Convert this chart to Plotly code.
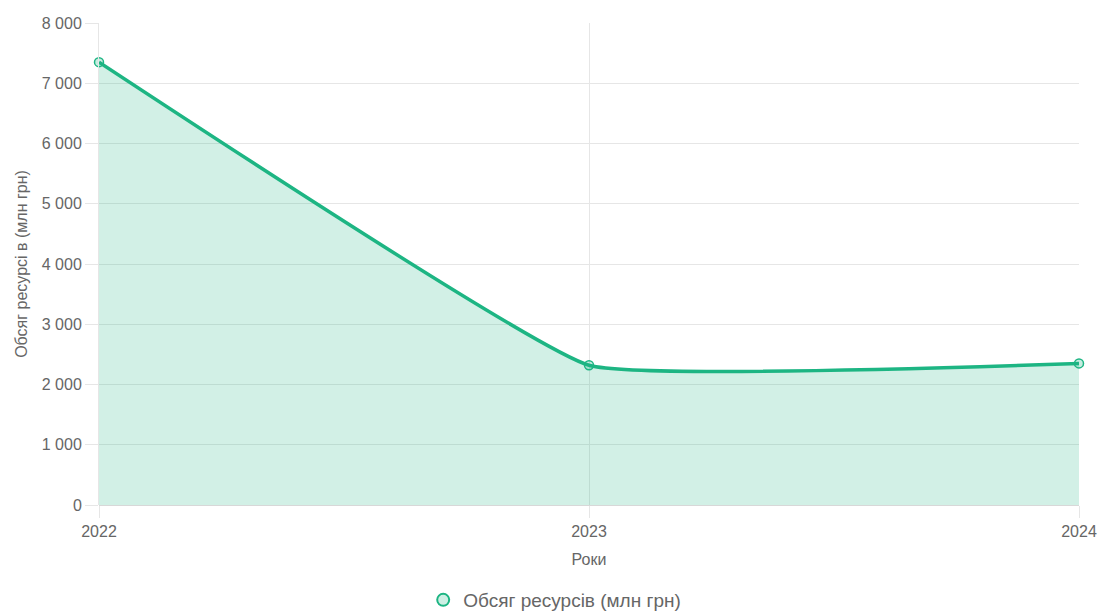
import plotly.graph_objects as go

years = ["2022", "2023", "2024"]
resources = [7350, 2320, 2350]
series_name = "Обсяг ресурсів (млн грн)"
y_title = "Обсяг ресурсі в (млн грн)"
x_title = "Роки"

line_color = "#1db583"
fill_color = "rgba(29,181,131,0.2)"
marker_fill = "rgba(29,181,131,0.25)"
grid_color = "#e6e6e6"
text_color = "#666666"
font_family = "Liberation Sans, Arial, sans-serif"

fig = go.Figure()

fig.add_trace(go.Scatter(
    x=years, y=resources,
    mode="lines+markers",
    line=dict(color=line_color, width=3.5, shape="spline", smoothing=0.3),
    marker=dict(size=9, color=marker_fill, line=dict(color=line_color, width=1.5)),
    fill="tozeroy", fillcolor=fill_color,
    cliponaxis=False,
    showlegend=False,
    hoverinfo="x+y",
))

# legend entry: a plain circle swatch
fig.add_trace(go.Scatter(
    x=[None], y=[None], mode="markers", name=series_name,
    marker=dict(size=16, color="rgba(29,181,131,0.22)", line=dict(color=line_color, width=1.5)),
))

fig.update_layout(
    width=1099, height=614,
    margin=dict(l=99, r=20, t=23, b=109),
    paper_bgcolor="white", plot_bgcolor="white",
    font=dict(family=font_family, color=text_color, size=16),
    separators=", ",
    legend=dict(
        orientation="h", x=0.465, xanchor="center",
        yref="container", y=1 - 600 / 614, yanchor="middle",
        font=dict(size=19, color=text_color), itemsizing="constant",
    ),
)

fig.update_xaxes(
    type="category", range=[0, 2], automargin=False,
    showgrid=True, gridcolor=grid_color, gridwidth=1,
    ticks="outside", ticklen=12, tickcolor=grid_color,
    showline=False, zeroline=False,
    tickfont=dict(size=16, color=text_color),
    title=dict(text=x_title, font=dict(size=16, color=text_color), standoff=14),
)

fig.update_yaxes(
    range=[0, 8000], dtick=1000, tickformat=",d", automargin=False,
    showgrid=True, gridcolor=grid_color, gridwidth=1,
    ticks="outside", ticklen=13, tickcolor=grid_color,
    showline=True, linecolor=grid_color, linewidth=1,
    zeroline=True, zerolinecolor="#d8d8d8", zerolinewidth=1,
    tickfont=dict(size=16, color=text_color),
    title=dict(text=y_title, font=dict(size=16, color=text_color), standoff=10),
)

fig.write_html("out.html")
